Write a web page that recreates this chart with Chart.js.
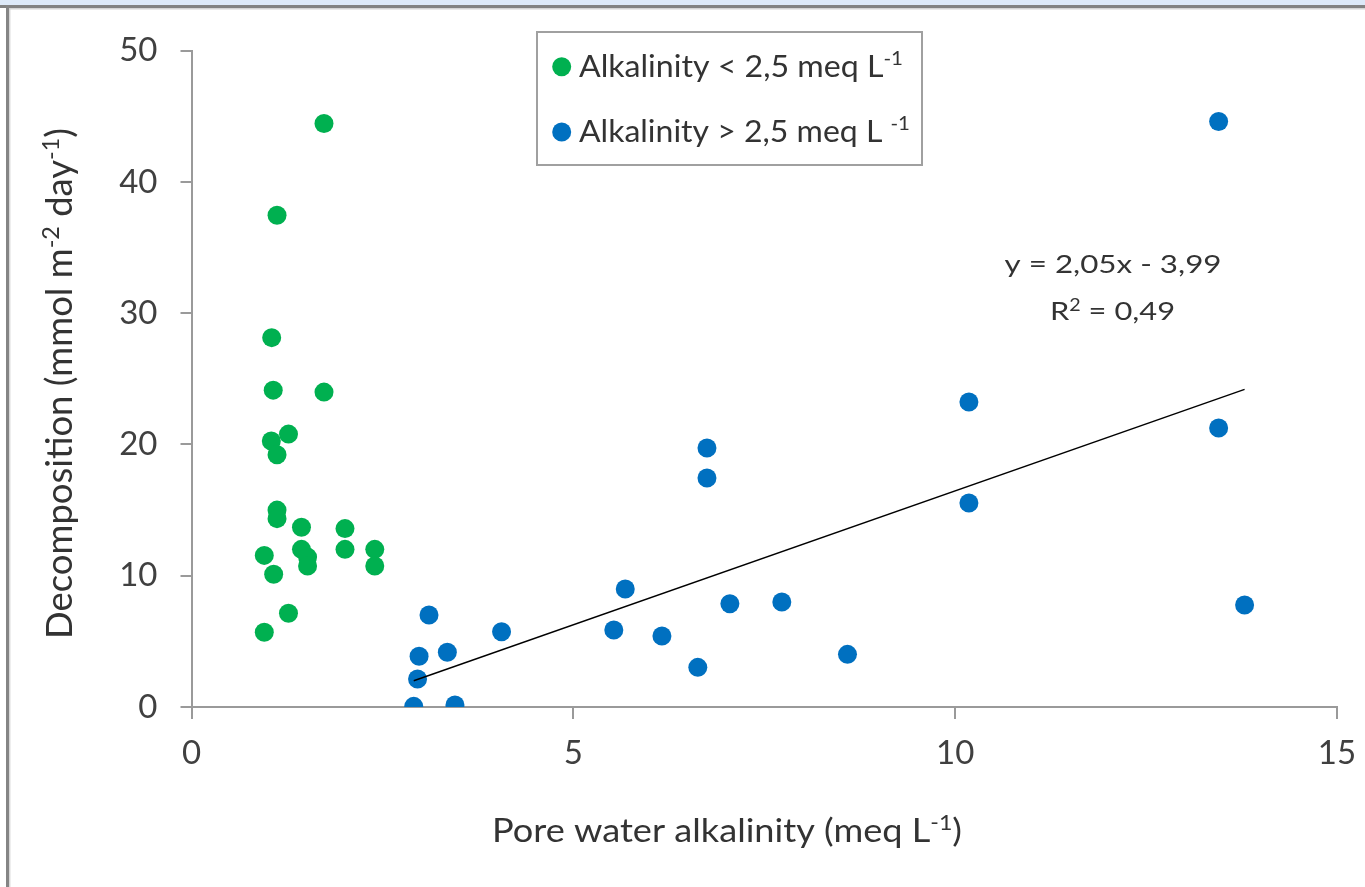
<!DOCTYPE html>
<html>
<head>
<meta charset="utf-8">
<script src="https://cdn.jsdelivr.net/npm/chart.js@4.4.1/dist/chart.umd.min.js"></script>
<style>
  html, body { margin: 0; padding: 0; background: #ffffff; }
  #wrap { width: 1365px; height: 887px; position: relative; }
  canvas { display: block; }
</style>
</head>
<body>
<div id="wrap"><canvas id="c" width="1365" height="887"></canvas></div>
<script>
// ---- data ----
const lowAlkX = [1.735, 1.12, 1.05, 1.07, 1.735, 1.27, 1.045, 1.12, 1.12, 1.12, 1.44, 2.01, 1.44, 1.52, 1.52, 2.01, 2.40, 2.40, 0.953, 1.076, 1.27, 0.953];
const lowAlkY = [44.46, 37.47, 28.14, 24.14, 23.99, 20.79, 20.26, 19.22, 15.0, 14.35, 13.7, 13.59, 12.01, 11.42, 10.74, 12.01, 12.01, 10.74, 11.55, 10.11, 7.14, 5.70];
const highAlkX = [3.11, 2.98, 3.35, 4.06, 2.96, 2.91, 3.45, 5.68, 5.53, 6.16, 6.63, 7.05, 7.73, 8.59, 6.75, 6.75, 10.18, 10.18, 13.45, 13.45, 13.79];
const highAlkY = [7.01, 3.86, 4.17, 5.73, 2.13, 0.05, 0.15, 8.99, 5.86, 5.41, 3.02, 7.87, 8.0, 4.01, 19.73, 17.44, 23.23, 15.54, 44.6, 21.25, 7.77];
const trendX = [2.91, 13.79];
const trendY = [2.0, 24.2];
const xTickValues = [0, 5, 10, 15];
const yTickValues = [0, 10, 20, 30, 40, 50];
const seriesLabels = ['Alkalinity < 2,5 meq L^{-1}', 'Alkalinity > 2,5 meq L ^{-1}'];
const xTitleText = 'Pore water alkalinity (meq L^{-1})';
const yTitleText = 'Decomposition (mmol m^{-2} day^{-1})';
const equationLines = ['y = 2,05x - 3,99', 'R^{2} = 0,49'];

const GREEN = '#00B050';
const BLUE = '#0070C0';
const FONT = 'Lato';
const TEXT = '#333333';

function toPoints(xs, ys) { return xs.map((x, i) => ({ x: x, y: ys[i] })); }

function parseRich(s) {
  const out = []; const re = /\^\{([^}]*)\}/g; let last = 0, m;
  while ((m = re.exec(s))) {
    if (m.index > last) out.push({ t: s.slice(last, m.index), sup: false });
    out.push({ t: m[1], sup: true });
    last = re.lastIndex;
  }
  if (last < s.length) out.push({ t: s.slice(last), sup: false });
  return out;
}

// draws text with superscripts; opt.cap = cap height px, opt.width = target width px
function drawRich(ctx, s, opt) {
  const size = opt.cap / 0.7165;
  const segs = parseRich(s);
  const fN = size + 'px ' + FONT, fS = (size * 0.64) + 'px ' + FONT;
  let w = 0;
  segs.forEach(g => { ctx.font = g.sup ? fS : fN; g.w = ctx.measureText(g.t).width; w += g.w; });
  const sx = opt.width ? opt.width / w : 1;
  ctx.save();
  ctx.translate(opt.x, opt.y);
  if (opt.rotate) ctx.rotate(opt.rotate);
  ctx.scale(sx, 1);
  let cx = opt.align === 'center' ? -w / 2 : (opt.align === 'right' ? -w : 0);
  ctx.fillStyle = opt.color || TEXT;
  ctx.textBaseline = 'alphabetic';
  ctx.textAlign = 'left';
  segs.forEach(g => {
    ctx.font = g.sup ? fS : fN;
    ctx.fillText(g.t, cx, g.sup ? -size * 0.37 : 0);
    cx += g.w;
  });
  ctx.restore();
}

const framePlugin = {
  id: 'frame',
  beforeDraw(chart) {
    const ctx = chart.ctx;
    ctx.save();
    ctx.fillStyle = '#ffffff';
    ctx.fillRect(0, 0, chart.width, chart.height);
    ctx.fillStyle = '#dde9f8';
    ctx.fillRect(0, 0, chart.width, 5);
    ctx.fillStyle = '#828282';
    ctx.fillRect(0, 5, chart.width, 3);
    ctx.fillStyle = '#d4d4d4';
    ctx.fillRect(9, 8, chart.width - 9, 1.5);
    ctx.fillStyle = '#858585';
    ctx.fillRect(6, 5, 3.2, chart.height - 5);
    ctx.fillStyle = '#d4d4d4';
    ctx.fillRect(9.2, 8, 1.2, chart.height - 8);
    ctx.restore();
  },
  afterDraw(chart) {
    const ctx = chart.ctx;
    // axis titles
    drawRich(ctx, xTitleText, { x: 727, y: 842, cap: 23, width: 470, align: 'center' });
    drawRich(ctx, yTitleText, { x: 72, y: 383.5, cap: 26, width: 511, align: 'center', rotate: -Math.PI / 2 });
    // legend box
    ctx.save();
    ctx.strokeStyle = '#a0a0a0';
    ctx.lineWidth = 2;
    ctx.strokeRect(537, 32, 385, 133);
    const ds = chart.data.datasets.filter(d => d.legendRow !== undefined);
    ds.forEach(d => {
      const cy = d.legendRow === 0 ? 66.7 : 132;
      ctx.beginPath();
      ctx.fillStyle = d.backgroundColor;
      ctx.arc(561.7, cy, 9.5, 0, Math.PI * 2);
      ctx.fill();
    });
    ctx.restore();
    drawRich(ctx, seriesLabels[0], { x: 579, y: 76.7, cap: 21.7, width: 324, align: 'left' });
    drawRich(ctx, seriesLabels[1], { x: 579, y: 141.7, cap: 21.7, width: 331, align: 'left' });
    // trend equation
    drawRich(ctx, equationLines[0], { x: 1113, y: 273, cap: 18.3, width: 217, align: 'center' });
    drawRich(ctx, equationLines[1], { x: 1112.5, y: 320, cap: 18.3, width: 125, align: 'center' });
  }
};

const AXIS_COLOR = '#9a9a9a';

new Chart(document.getElementById('c'), {
  type: 'scatter',
  data: {
    datasets: [
      {
        type: 'line',
        label: 'Linear trend',
        data: toPoints(trendX, trendY),
        borderColor: '#000000',
        borderWidth: 1.4,
        pointRadius: 0,
        fill: false,
        showLine: true,
        order: 0
      },
      {
        label: seriesLabels[0],
        legendRow: 0,
        data: toPoints(lowAlkX, lowAlkY),
        backgroundColor: GREEN,
        borderWidth: 0,
        pointRadius: 9.5,
        pointHoverRadius: 9.5,
        order: 1
      },
      {
        label: seriesLabels[1],
        legendRow: 1,
        data: toPoints(highAlkX, highAlkY),
        backgroundColor: BLUE,
        borderWidth: 0,
        pointRadius: 9.5,
        pointHoverRadius: 9.5,
        order: 2
      }
    ]
  },
  options: {
    responsive: false,
    animation: false,
    devicePixelRatio: 1,
    layout: { padding: { left: 0, top: 50.7, right: 28, bottom: 0 } },
    plugins: { legend: { display: false }, tooltip: { enabled: false } },
    scales: {
      x: {
        type: 'linear',
        min: 0, max: 15,
        afterFit(scale) { scale.height = 180; scale.paddingLeft = 0; scale.paddingRight = 0; },
        afterBuildTicks(scale) { scale.ticks = xTickValues.map(v => ({ value: v })); },
        grid: { display: true, drawOnChartArea: false, drawTicks: true, tickLength: 12, color: AXIS_COLOR, lineWidth: 2 },
        border: { display: true, color: AXIS_COLOR, width: 2 },
        ticks: { color: '#404040', font: { family: FONT, size: 33 }, padding: 15, maxRotation: 0 }
      },
      y: {
        type: 'linear',
        min: 0, max: 50,
        afterFit(scale) { scale.width = 191.5; scale.paddingTop = 0; scale.paddingBottom = 0; },
        afterBuildTicks(scale) { scale.ticks = yTickValues.map(v => ({ value: v })); },
        grid: { display: true, drawOnChartArea: false, drawTicks: true, tickLength: 11, color: AXIS_COLOR, lineWidth: 2 },
        border: { display: true, color: AXIS_COLOR, width: 2 },
        ticks: { color: '#404040', font: { family: FONT, size: 33 }, padding: 23 }
      }
    }
  },
  plugins: [framePlugin]
});
</script>
</body>
</html>
